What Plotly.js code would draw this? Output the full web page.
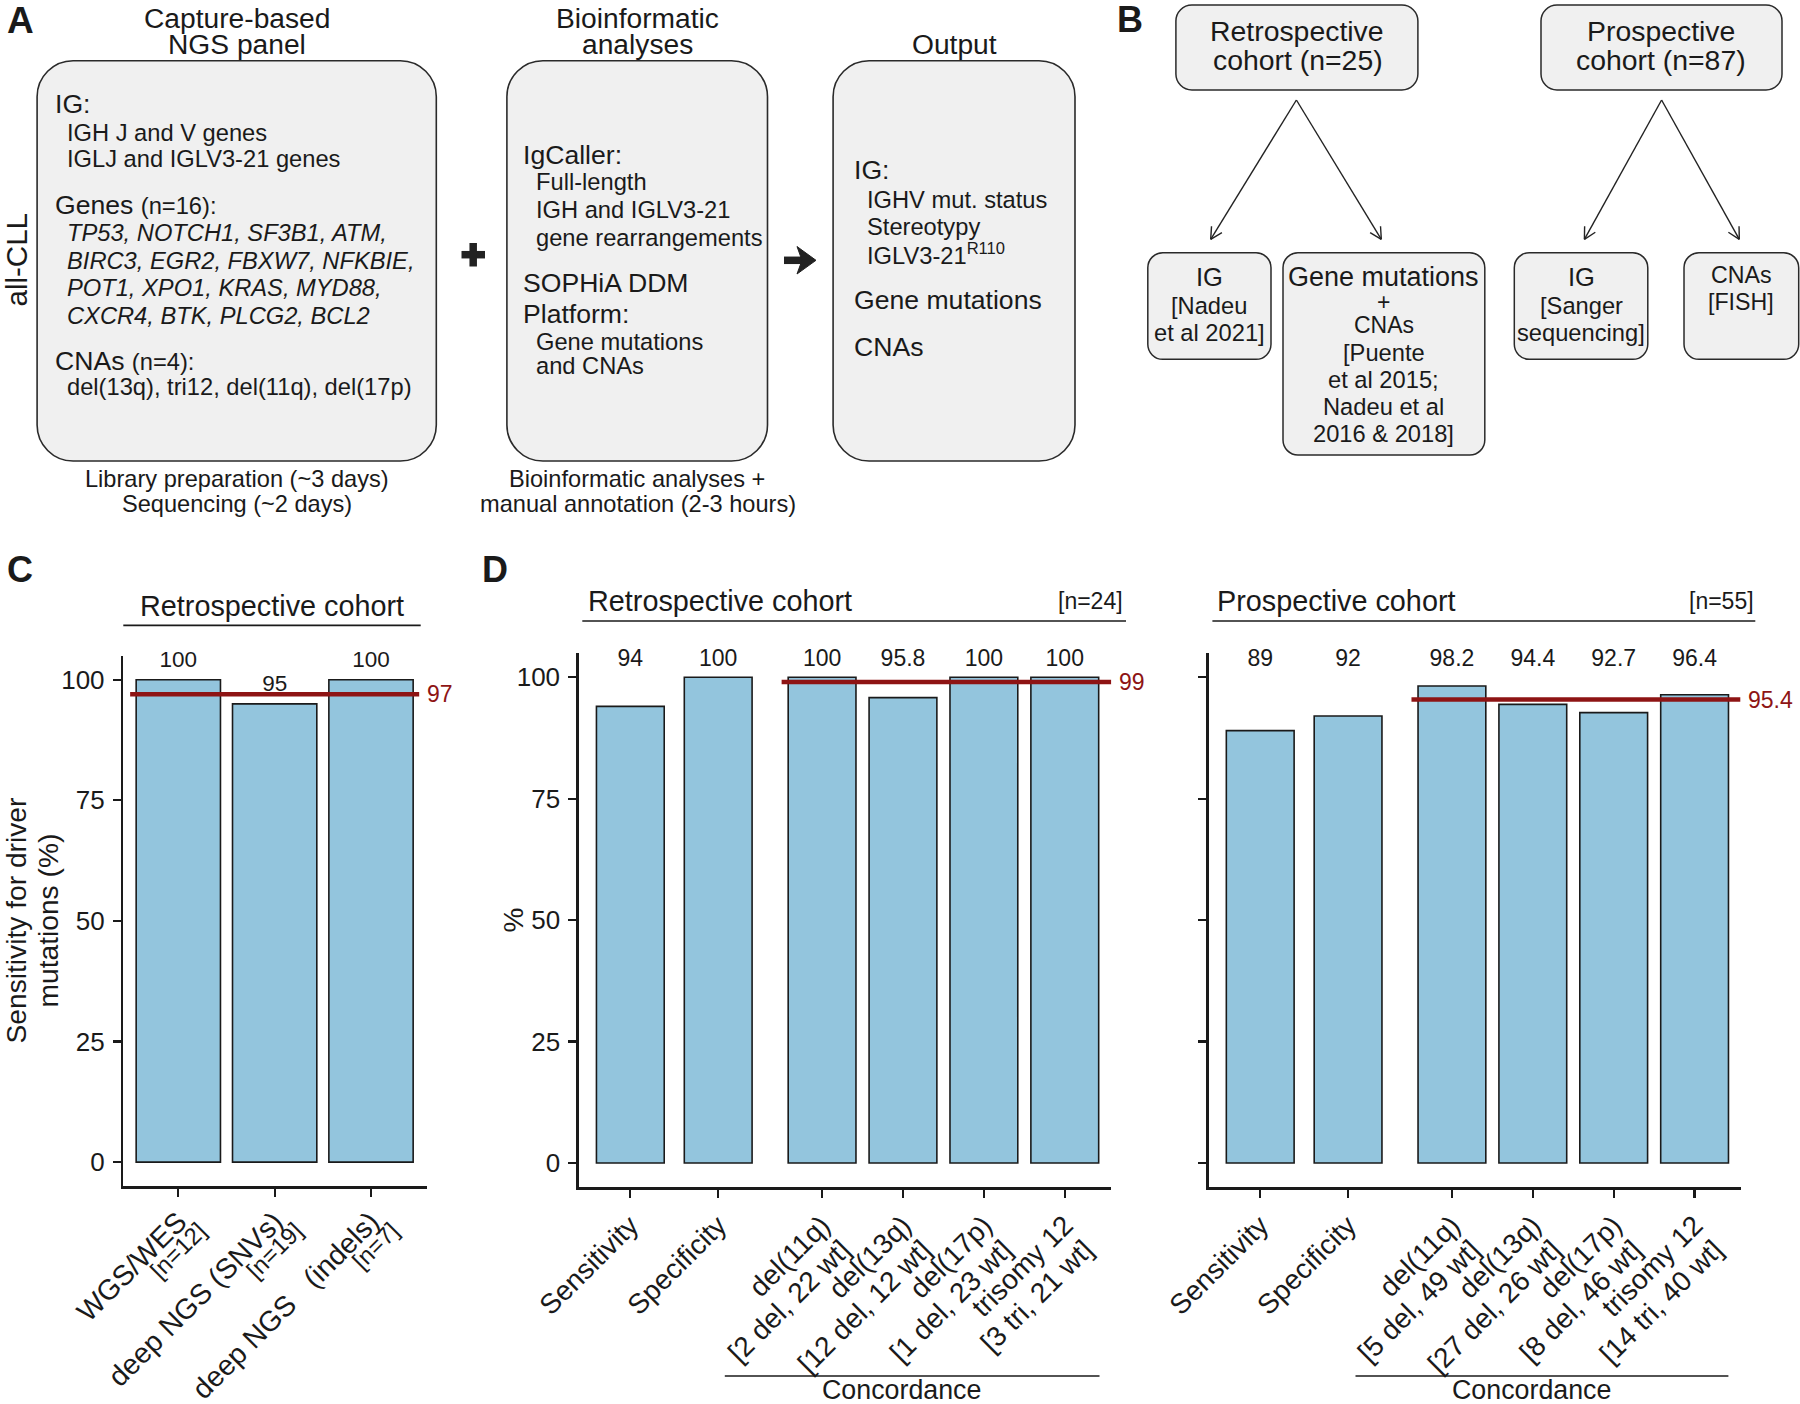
<!DOCTYPE html>
<html>
<head>
<meta charset="utf-8">
<script src="https://cdn.plot.ly/plotly-3.0.1.min.js"></script>
<style>html,body{margin:0;padding:0;background:#fff;}#chart{width:1800px;height:1404px;}</style>
</head>
<body>
<div id="chart"></div>
<script>
// ---------------- DATA ----------------
const cCategories = ["WGS/WES", "deep NGS (SNVs)", "deep NGS \u00a0\u00a0(indels)"];
const cCounts = ["[n=12]", "[n=19]", "[n=7]"];
const cSensitivity = [100, 95, 100];
const cMean = 97;

const dCategories = ["Sensitivity", "Specificity", "del(11q)", "del(13q)", "del(17p)", "trisomy 12"];
const dRetroCounts = ["", "", "[2 del, 22 wt]", "[12 del, 12 wt]", "[1 del, 23 wt]", "[3 tri, 21 wt]"];
const dRetroValues = [94, 100, 100, 95.8, 100, 100];
const dRetroMean = 99;
const dRetroN = "[n=24]";
const dProCounts = ["", "", "[5 del, 49 wt]", "[27 del, 26 wt]", "[8 del, 46 wt]", "[14 tri, 40 wt]"];
const dProValues = [89, 92, 98.2, 94.4, 92.7, 96.4];
const dProMean = 95.4;
const dProN = "[n=55]";
const yTickVals = [0, 25, 50, 75, 100];

// ---------------- LAYOUT HELPERS ----------------
const W = 1800, H = 1404;
const FONT = "Liberation Sans, Arial, Helvetica, sans-serif";
const INK = "#1a1a1a";
const BLUE = "#93C5DD";
const RED = "#8E1414";
const BOXFILL = "#F0F0F0";
const X = p => p / W;
const Y = p => 1 - p / H;

const annotations = [];
const shapes = [];

function T(text, x, y, size, anchor, extra) {
  annotations.push(Object.assign({
    text: text, x: X(x), y: Y(y), xref: "paper", yref: "paper",
    xanchor: anchor || "left", yanchor: "middle", showarrow: false,
    font: {family: FONT, size: size, color: INK}, borderpad: 0
  }, extra || {}));
}
function P(x, y) { return X(x).toFixed(5) + "," + Y(y).toFixed(5); }
function rrect(x0, y0, x1, y1, r, lw) {
  const k = 0.5523 * r;
  const d = "M" + P(x0 + r, y0) + " L" + P(x1 - r, y0) +
    " C" + P(x1 - r + k, y0) + " " + P(x1, y0 + r - k) + " " + P(x1, y0 + r) +
    " L" + P(x1, y1 - r) +
    " C" + P(x1, y1 - r + k) + " " + P(x1 - r + k, y1) + " " + P(x1 - r, y1) +
    " L" + P(x0 + r, y1) +
    " C" + P(x0 + r - k, y1) + " " + P(x0, y1 - r + k) + " " + P(x0, y1 - r) +
    " L" + P(x0, y0 + r) +
    " C" + P(x0, y0 + r - k) + " " + P(x0 + r - k, y0) + " " + P(x0 + r, y0) + " Z";
  shapes.push({type: "path", xref: "paper", yref: "paper", path: d,
    fillcolor: BOXFILL, line: {color: "#2a2a2a", width: lw || 1.6}, layer: "below"});
}
function L(x0, y0, x1, y1, w, color) {
  shapes.push({type: "line", xref: "paper", yref: "paper",
    x0: X(x0), y0: Y(y0), x1: X(x1), y1: Y(y1),
    line: {color: color || INK, width: w || 1.5}});
}
function arrow(x0, y0, x1, y1) {
  L(x0, y0, x1, y1, 1.4, "#222");
  const dx = x1 - x0, dy = y1 - y0, len = Math.hypot(dx, dy);
  const ux = dx / len, uy = dy / len, hl = 13, ang = 28 * Math.PI / 180;
  [ang, -ang].forEach(a => {
    const rx = ux * Math.cos(a) - uy * Math.sin(a);
    const ry = ux * Math.sin(a) + uy * Math.cos(a);
    L(x1, y1, x1 - hl * rx, y1 - hl * ry, 1.4, "#222");
  });
}

// ---------------- PANEL A ----------------
T("<b>A</b>", 20, 21, 37, "center");
T("all-CLL", 16.5, 260, 29.5, "center", {textangle: -90});
T("Capture-based", 236.5, 17.5, 28.2, "center");
T("NGS panel", 237, 43.5, 28.2, "center");
T("Bioinformatic", 637.4, 17.5, 28.2, "center");
T("analyses", 637.2, 43.5, 28.2, "center");
T("Output", 954, 43.5, 28.2, "center");

rrect(37.1, 60.7, 436.3, 461, 36, 1.6);
rrect(506.9, 60.7, 767.5, 461, 36, 1.6);
rrect(833.1, 60.7, 1075, 461, 36, 1.6);

const HB = 26.6, BD = 23.7;
T("IG:", 53.6, 104, HB);
T("IGH J and V genes", 65.8, 132.5, BD);
T("IGLJ and IGLV3-21 genes", 65.8, 159.5, BD);
T("Genes <span style='font-size:23.7px'>(n=16):</span>", 53.6, 205, HB);
T("<i>TP53, NOTCH1, SF3B1, ATM,</i>", 65.8, 233.3, BD);
T("<i>BIRC3, EGR2, FBXW7, NFKBIE,</i>", 65.8, 260.8, BD);
T("<i>POT1, XPO1, KRAS, MYD88,</i>", 65.8, 288.3, BD);
T("<i>CXCR4, BTK, PLCG2, BCL2</i>", 65.8, 315.8, BD);
T("CNAs <span style='font-size:23.7px'>(n=4):</span>", 53.6, 361.5, HB);
T("del(13q), tri12, del(11q), del(17p)", 65.8, 387, BD);

T("Library preparation (~3 days)", 237.3, 479, 23.6, "center");
T("Sequencing (~2 days)", 237.3, 503.5, 23.6, "center");

T("IgCaller:", 522.3, 155, HB);
T("Full-length", 535.4, 182.3, BD);
T("IGH and IGLV3-21", 535.4, 210, BD);
T("gene rearrangements", 535.4, 237.5, BD);
T("SOPHiA DDM", 522.3, 283.5, HB);
T("Platform:", 522.3, 314.5, HB);
T("Gene mutations", 535.4, 342, BD);
T("and CNAs", 535.4, 366, BD);

T("Bioinformatic analyses +", 636.5, 479.5, 23.6, "center");
T("manual annotation (2-3 hours)", 638, 503.5, 23.6, "center");

T("IG:", 852.9, 170, HB);
T("IGHV mut. status", 865.5, 200, BD);
T("Stereotypy", 865.5, 227, BD);
T("IGLV3-21<sup>R110</sup>", 865.5, 254.5, BD);
T("Gene mutations", 852.9, 299.5, HB);
T("CNAs", 852.9, 347.5, HB);

// plus sign
L(461.5, 254.7, 485, 254.7, 7.5, "#222");
L(473.2, 243, 473.2, 266.5, 7.5, "#222");
// heavy arrow
L(784, 260.3, 806, 260.3, 7.5, "#222");
shapes.push({type: "path", xref: "paper", yref: "paper",
  path: "M" + P(797, 246.5) + " L" + P(816, 260.3) + " L" + P(797, 274) + " L" + P(802, 260.3) + " Z",
  fillcolor: "#222", line: {color: "#222", width: 1}});

// ---------------- PANEL B ----------------
T("<b>B</b>", 1130, 19.5, 36, "center");
rrect(1175.9, 5, 1417.9, 90, 16, 1.5);
rrect(1541, 5, 1782, 90, 16, 1.5);
T("Retrospective", 1297, 31.3, 28.4, "center");
T("cohort (n=25)", 1297.5, 59.5, 28.4, "center");
T("Prospective", 1661.4, 31.3, 28.4, "center");
T("cohort (n=87)", 1661.4, 59.5, 28.4, "center");

arrow(1296.4, 100, 1210.7, 239.3);
arrow(1296.4, 100, 1381.3, 239.3);
arrow(1661.6, 100, 1584.4, 239.3);
arrow(1661.6, 100, 1739.3, 239.3);

rrect(1147.8, 252.7, 1271, 359.3, 15, 1.5);
rrect(1283, 252.7, 1484.8, 455, 15, 1.5);
rrect(1514.3, 252.7, 1647.8, 359.3, 15, 1.5);
rrect(1684, 252.7, 1798.7, 359.3, 15, 1.5);

T("IG", 1209.4, 277.5, 25.5, "center");
T("[Nadeu", 1209.4, 306, 23.7, "center");
T("et al 2021]", 1209.4, 333, 23.7, "center");

T("Gene mutations", 1383.9, 277, 27, "center");
T("+", 1383.9, 301.5, 23, "center");
T("CNAs", 1383.9, 325, 23, "center");
T("[Puente", 1383.9, 353, 23.7, "center");
T("et al 2015;", 1383.9, 380, 23.7, "center");
T("Nadeu et al", 1383.9, 406.7, 23.7, "center");
T("2016 &amp; 2018]", 1383.9, 434, 23.7, "center");

T("IG", 1581, 277.5, 25.5, "center");
T("[Sanger", 1581, 306, 23.7, "center");
T("sequencing]", 1581, 333, 23.7, "center");

T("CNAs", 1741.4, 275, 23.2, "center");
T("[FISH]", 1741.4, 302, 23.2, "center");

// ---------------- PANEL C / D decorations ----------------
T("<b>C</b>", 20, 569, 36, "center");
T("<b>D</b>", 495, 569, 36, "center");

T("Retrospective cohort", 272, 605.5, 28.8, "center");
L(123.3, 625.4, 420.7, 625.4, 1.6);
T("Sensitivity for driver", 15, 920.5, 28.2, "center", {textangle: -90});
T("mutations (%)", 47, 920.5, 28.2, "center", {textangle: -90});

T("Retrospective cohort", 586.5, 601.2, 28.8, "left");
T(dRetroN, 1124, 601.2, 23, "right");
L(582.3, 621, 1126, 621, 1.6);
T("%", 512.5, 920, 28, "center", {textangle: -90});

T("Prospective cohort", 1215.8, 601.2, 28.8, "left");
T(dProN, 1754.5, 601.2, 23, "right");
L(1212.4, 621, 1755.3, 621, 1.6);

L(724.8, 1376, 1099.5, 1376, 1.6);
T("Concordance", 902, 1389.5, 26.8, "center");
L(1355.5, 1376, 1728.4, 1376, 1.6);
T("Concordance", 1531.4, 1389.5, 26.8, "center");

// ---------------- TRACES ----------------
const xC = cCategories.map((_, i) => i + 1);
const xD = [1, 2.086, 3.37, 4.37, 5.37, 6.37];
const fmt = v => String(v);
const unitC = 96.35, unitD = 80.9;          // px per x unit
const subC = {dx: 21, dy: 12}, subD = {dx: 20, dy: 26}; // second label line offset (px)

const barStyle = {color: BLUE, line: {color: INK, width: 1.6}};
const traces = [
  {type: "bar", x: xC, y: cSensitivity, width: 0.875, marker: barStyle, xaxis: "x", yaxis: "y", hoverinfo: "skip"},
  {type: "scatter", mode: "text", x: xC, y: cSensitivity.map(v => v + 3.8), text: cSensitivity.map(fmt),
   textposition: "middle center", textfont: {family: FONT, size: 22.5, color: INK}, cliponaxis: false, xaxis: "x", yaxis: "y", hoverinfo: "skip"},
  {type: "bar", x: xD, y: dRetroValues, width: 0.838, marker: barStyle, xaxis: "x2", yaxis: "y2", hoverinfo: "skip"},
  {type: "scatter", mode: "text", x: xD, y: xD.map(() => 103.5), text: dRetroValues.map(fmt),
   textposition: "middle center", textfont: {family: FONT, size: 23, color: INK}, cliponaxis: false, xaxis: "x2", yaxis: "y2", hoverinfo: "skip"},
  {type: "bar", x: xD, y: dProValues, width: 0.838, marker: barStyle, xaxis: "x3", yaxis: "y3", hoverinfo: "skip"},
  {type: "scatter", mode: "text", x: xD, y: xD.map(() => 103.5), text: dProValues.map(fmt),
   textposition: "middle center", textfont: {family: FONT, size: 23, color: INK}, cliponaxis: false, xaxis: "x3", yaxis: "y3", hoverinfo: "skip"},
  {type: "scatter", mode: "markers", x: [], y: [], xaxis: "x4", yaxis: "y", hoverinfo: "skip"},
  {type: "scatter", mode: "markers", x: [], y: [], xaxis: "x5", yaxis: "y2", hoverinfo: "skip"},
  {type: "scatter", mode: "markers", x: [], y: [], xaxis: "x6", yaxis: "y3", hoverinfo: "skip"}
];

// mean lines + labels
function meanLine(xref, yref, x0, x1, m) {
  shapes.push({type: "line", xref: xref, yref: yref, x0: x0, x1: x1, y0: m, y1: m,
    line: {color: RED, width: 4.5}, layer: "above"});
  annotations.push({text: fmt(m), xref: xref, yref: yref, x: x1, y: m, xanchor: "left", yanchor: "middle",
    xshift: 7, showarrow: false, borderpad: 0, font: {family: FONT, size: 23, color: RED}});
}
const xRangeC = [0.429, 3.578];
const xRangeD = [0.363, 6.945];
meanLine("x", "y", xC[0] - 0.5, xC[2] + 0.5, cMean);
meanLine("x2", "y2", xD[2] - 0.5, xRangeD[1], dRetroMean);
meanLine("x3", "y3", xD[2] - 0.5, xRangeD[1] - 0.01, dProMean);

const axBase = {
  showline: true, linewidth: 2.5, linecolor: INK, ticks: "outside", ticklen: 8, tickwidth: 2.2,
  tickcolor: INK, showgrid: false, zeroline: false, fixedrange: true, automargin: false
};
const xAx = (dom, range, tickvals, ticktext, anchor, size, standoff) => Object.assign({}, axBase, {
  domain: dom, range: range, tickmode: "array", tickvals: tickvals, ticktext: ticktext,
  tickangle: -45, anchor: anchor, tickfont: {family: FONT, size: size, color: INK}, ticklabelstandoff: standoff
});
// overlay axis carrying the second line of each tick label
const xSub = (over, range, tickvals, ticktext, anchor, size, off, unit) => {
  const keep = ticktext.map((t, i) => i).filter(i => ticktext[i] !== "");
  return {
    overlaying: over, anchor: anchor, range: range, showline: false, showgrid: false, zeroline: false,
    ticks: "outside", ticklen: 8, tickwidth: 0, tickcolor: "rgba(0,0,0,0)", fixedrange: true, automargin: false,
    tickmode: "array", tickvals: keep.map(i => tickvals[i] + off.dx / unit), ticktext: keep.map(i => ticktext[i]),
    tickangle: -45, ticklabelstandoff: off.dy, tickfont: {family: FONT, size: size, color: INK}
  };
};
const yAx = (dom, anchor, show) => Object.assign({}, axBase, {
  domain: dom, range: [-5, 105], tickmode: "array", tickvals: yTickVals, anchor: anchor,
  showticklabels: show, tickfont: {family: FONT, size: 26, color: INK}, ticklabelstandoff: 3
});

const domC = [X(123.3), X(426.7)], domD1 = [X(578.8), X(1111.3)], domD2 = [X(1208.7), X(1741.1)];
const layout = {
  width: W, height: H, margin: {l: 0, r: 0, t: 0, b: 0, pad: 0},
  paper_bgcolor: "#ffffff", plot_bgcolor: "rgba(0,0,0,0)", showlegend: false,
  font: {family: FONT, color: INK}, bargap: 0,
  xaxis: xAx(domC, xRangeC, xC, cCategories, "y", 28.5, -3),
  yaxis: yAx([Y(1186.2), Y(655.6)], "x", true),
  xaxis2: xAx(domD1, xRangeD, xD, dCategories, "y2", 28, 0),
  yaxis2: yAx([Y(1187.3), Y(652.9)], "x2", true),
  xaxis3: xAx(domD2, xRangeD, xD, dCategories, "y3", 28, 0),
  yaxis3: yAx([Y(1187.3), Y(652.9)], "x3", false),
  xaxis4: Object.assign(xSub("x", xRangeC, xC, cCounts, "y", 24, subC, unitC), {domain: domC}),
  xaxis5: Object.assign(xSub("x2", xRangeD, xD, dRetroCounts, "y2", 28, subD, unitD), {domain: domD1}),
  xaxis6: Object.assign(xSub("x3", xRangeD, xD, dProCounts, "y3", 28, subD, unitD), {domain: domD2}),
  shapes: shapes, annotations: annotations
};

Plotly.newPlot("chart", traces, layout, {staticPlot: true, displayModeBar: false});
</script>
</body>
</html>
